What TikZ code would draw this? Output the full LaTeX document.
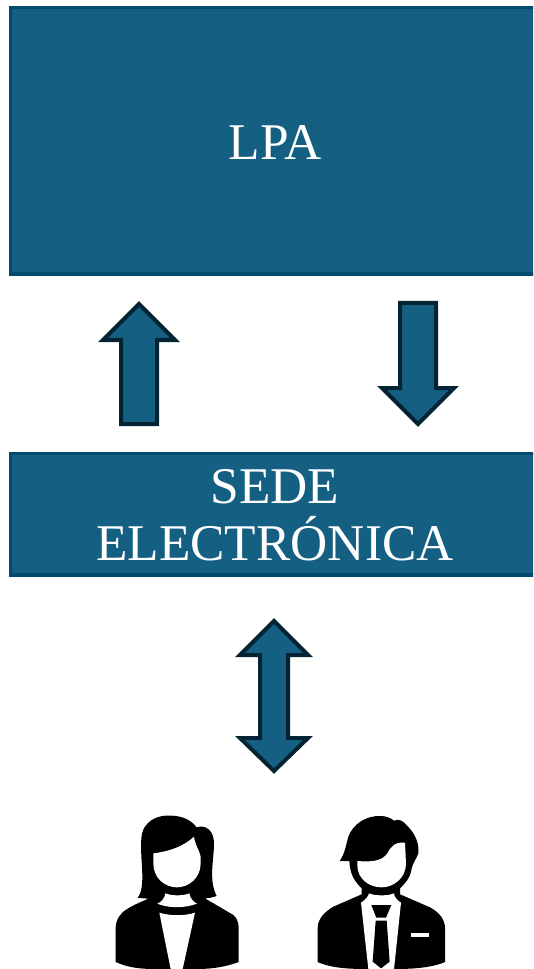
\documentclass[tikz,border=0pt]{standalone}
\usepackage{fontspec}
\setmainfont{Liberation Serif}
\definecolor{boxfill}{HTML}{156082}
\definecolor{boxline}{HTML}{034B6E}
\definecolor{arrowline}{HTML}{042433}
\tikzset{
  px/.style={x=0.75pt,y=-0.75pt},
  panel/.style={draw=boxline,fill=boxfill,line width=2.6pt,miter limit=10},
  arrowshape/.style={draw=arrowline,fill=boxfill,line width=3pt,line join=miter,miter limit=10},
  panellabel/.style={text=white,font=\fontsize{38.6}{43}\selectfont,align=center,inner sep=0pt},
  ink/.style={fill=black,draw=none},
  paper/.style={fill=white,draw=none}
}
\begin{document}
\begin{tikzpicture}[px]
\useasboundingbox (0,0) rectangle (533,969);
\begin{scope}
\clip (0,0) rectangle (533,969);
\draw[panel] (10.7,7.5) rectangle (545,274);
\draw[panel] (10.7,453.5) rectangle (545,575);
% up arrow
\draw[arrowshape] (139,304) -- (175,340) -- (157,340) -- (157,424) -- (121,424) -- (121,340) -- (103,340) -- cycle;
% down arrow
\draw[arrowshape] (418,424) -- (454,388) -- (436,388) -- (436,303) -- (400,303) -- (400,388) -- (382,388) -- cycle;
% double arrow
\draw[arrowshape] (274,621) -- (308,655) -- (288,655) -- (288,738) -- (308,738) -- (274,771) -- (240,738) -- (260,738) -- (260,655) -- (240,655) -- cycle;

% woman
\begin{scope}[shift={(100,800)},x=0.25pt,y=-0.25pt]
\path[ink] (113,293) .. controls (128,275) and (128,240) .. (126,200)
  .. controls (122,140) and (120,100) .. (135,80)
  .. controls (155,50) and (190,45) .. (215,47)
  .. controls (250,48) and (275,62) .. (290,82)
  .. controls (320,72) and (342,95) .. (342,130)
  .. controls (342,180) and (325,240) .. (350,288)
  .. controls (335,293) and (325,295) .. (315,295)
  -- (400,345) .. controls (412,355) and (416,370) .. (416,385)
  -- (416,486) .. controls (350,510) and (300,507) .. (248,507)
  -- (212,507) .. controls (150,507) and (100,510) .. (47,486)
  -- (47,385) .. controls (47,360) and (60,340) .. (80,328)
  .. controls (100,315) and (125,305) .. (145,296)
  .. controls (135,295) and (125,295) .. (113,293) -- cycle;
\path[paper] (160,160) .. controls (205,155) and (250,140) .. (282,110)
  .. controls (285,135) and (300,155) .. (302,170)
  -- (302,190) .. controls (302,235) and (265,262) .. (231,262)
  .. controls (195,262) and (160,235) .. (160,190) -- cycle;
\path[paper] (196,280) .. controls (215,288) and (250,288) .. (268,280)
  .. controls (270,295) and (280,305) .. (291,311)
  .. controls (255,325) and (205,325) .. (172,311)
  .. controls (185,305) and (194,295) .. (196,280) -- cycle;
\path[paper] (178,338) .. controls (210,348) and (255,348) .. (285,338)
  -- (248,507) -- (212,507) -- cycle;
\end{scope}

% man
\begin{scope}[shift={(300,800)},x=0.25pt,y=-0.25pt]
\path[ink] (119,183) .. controls (135,160) and (138,135) .. (145,110)
  .. controls (160,70) and (200,47) .. (240,48)
  .. controls (255,48) and (270,52) .. (282,62)
  .. controls (295,55) and (310,62) .. (322,78)
  .. controls (345,100) and (358,130) .. (355,160)
  .. controls (350,175) and (338,190) .. (335,205)
  .. controls (332,235) and (310,255) .. (300,265)
  -- (300,283) -- (390,322)
  .. controls (420,338) and (435,360) .. (435,385)
  -- (435,486) .. controls (390,505) and (330,507) .. (280,507)
  -- (205,507) .. controls (150,507) and (95,505) .. (53,486)
  -- (53,385) .. controls (53,355) and (75,335) .. (100,320)
  -- (185,283) -- (185,265)
  .. controls (165,245) and (150,225) .. (148,183)
  -- cycle;
\path[paper] (172,183) .. controls (210,186) and (245,185) .. (262,160)
  .. controls (272,140) and (285,125) .. (315,128)
  -- (318,190) .. controls (318,235) and (280,262) .. (245,262)
  .. controls (205,262) and (172,235) .. (172,195) -- cycle;
\path[paper] (207,280) .. controls (225,288) and (265,288) .. (282,280)
  .. controls (283,290) and (290,300) .. (303,308)
  -- (282,507) -- (205,507) -- (183,308)
  .. controls (195,300) and (205,290) .. (207,280) -- cycle;
\path[ink] (214,315) -- (274,315) -- (258,353) -- (229,353) -- cycle;
\path[ink] (227,362) -- (260,362) -- (269,485) -- (243,505) -- (218,485) -- cycle;
\path[paper] (332,398) rectangle (387,411);
\end{scope}
\end{scope}

\node[panellabel] (lpa) at (275,143) {LPA};
\node[panellabel] (sede) at (275,515) {SEDE\\ELECTRÓNICA};
\end{tikzpicture}
\end{document}
